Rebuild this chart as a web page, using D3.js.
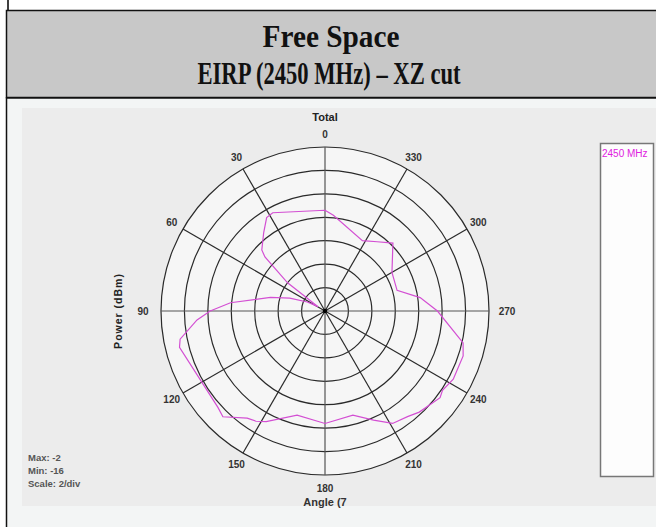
<!DOCTYPE html>
<html><head><meta charset="utf-8">
<script src="https://cdn.jsdelivr.net/npm/d3@7/dist/d3.min.js"></script>
<style>html,body{margin:0;padding:0;background:#fff;}svg{display:block;}</style>
</head><body>
<svg id="c" width="656" height="527"></svg>
<script>
// ---- data ----
const titleLines = ["Free Space", "EIRP (2450 MHz) \u2013 XZ cut"];
const seriesName = "2450 MHz";
const angleTicks = [0, 30, 60, 90, 120, 150, 180, 210, 240, 270, 300, 330];
const ringValues = [-16, -14, -12, -10, -8, -6, -4, -2];
const angles = [0, 28, 32, 38, 46, 48, 53, 58, 63, 70, 76, 85, 90, 94, 101, 104, 132, 136, 144, 148, 152, 165, 180, 195, 204, 211, 218, 223, 233, 236, 242, 252, 257, 270, 278, 286, 300, 315, 323, 332, 355, 360];
const values = [-7.4, -6.5, -6.6, -7.5, -8.5, -9.1, -12.0, -15.3, -14.3, -12.8, -11.2, -7.9, -6.2, -5.05, -3.4, -3.2, -3.7, -3.45, -4.7, -4.9, -5.3, -6.8, -6.4, -6.8, -5.8, -4.8, -4.56, -4.2, -3.7, -3.9, -3.6, -3.6, -3.9, -6.4, -7.8, -9.6, -9.4, -7.8, -8.6, -9.2, -7.8, -7.4];
const statLines = ["Max: -2", "Min: -16", "Scale: 2/div"];

// ---- layout ----
const svg = d3.select("#c");
const W = 656, H = 527;
const cx = 325, cy = 311, R = 164;

// top strip + header
svg.append("rect").attr("x",0).attr("y",0).attr("width",W).attr("height",H).attr("fill","#fff");
svg.append("line").attr("x1",8).attr("x2",8).attr("y1",0).attr("y2",10).attr("stroke","#000").attr("stroke-width",1.5);
svg.append("rect").attr("x",6.5).attr("y",10.5).attr("width",W+10).attr("height",87).attr("fill","#c8c8c8").attr("stroke","#111").attr("stroke-width",1.5);
svg.append("rect").attr("x",6.5).attr("y",98).attr("width",W+10).attr("height",H).attr("fill","#f3f5f5").attr("stroke","#111").attr("stroke-width",1.5);
const titleLen = [137, 263];
const titleX = [331, 329];
svg.selectAll("text.title").data(titleLines).join("text")
  .attr("x",(d,i)=>titleX[i]).attr("y",(d,i)=>47+i*37)
  .attr("text-anchor","middle")
  .attr("font-family","'Liberation Serif','Times New Roman',serif")
  .attr("font-weight","bold").attr("font-size",32)
  .attr("textLength",(d,i)=>titleLen[i]).attr("lengthAdjust","spacingAndGlyphs")
  .attr("fill","#111").text(d=>d);

// chart panel
svg.append("rect").attr("x",22).attr("y",108).attr("width",W-22).attr("height",398).attr("fill","#ececec");

const g = svg.append("g");
const r = d3.scaleLinear().domain([ringValues[0], ringValues[ringValues.length-1]]).range([0, R]);
const rad = d => d*Math.PI/180;
const px = (a, rr) => cx - rr*Math.sin(rad(a));
const py = (a, rr) => cy - rr*Math.cos(rad(a));

// plot fill
g.append("circle").attr("cx",cx).attr("cy",cy).attr("r",R).attr("fill","#f6f6f6");

// rings
g.selectAll("circle.ring").data(ringValues.slice(1)).join("circle")
  .attr("cx",cx).attr("cy",cy).attr("r",d=>r(d))
  .attr("fill","none").attr("stroke","#2a2a2a").attr("stroke-width",1.2);
// spokes
g.selectAll("line.spoke").data(angleTicks).join("line")
  .attr("x1",cx).attr("y1",cy)
  .attr("x2",d=>px(d,R)).attr("y2",d=>py(d,R))
  .attr("stroke",d=>d%90===0?"#555":"#2a2a2a").attr("stroke-width",1.2);
g.append("circle").attr("cx",cx).attr("cy",cy).attr("r",2.2).attr("fill","#000");

// angle labels
g.selectAll("text.ang").data(angleTicks).join("text")
  .attr("x",d=>px(d,R+ (d%180===90?18:13)))
  .attr("y",d=>py(d,R+ (d%180===90?18:13)))
  .attr("text-anchor","middle").attr("dominant-baseline","central")
  .attr("font-family","'Liberation Sans',Arial,sans-serif").attr("font-weight","bold")
  .attr("font-size",10).attr("fill","#333").text(d=>d);

// data line
const line = d3.line()
  .x((d,i)=>px(angles[i], r(values[i])))
  .y((d,i)=>py(angles[i], r(values[i])));
g.append("path").datum(values).attr("d",line)
  .attr("fill","none").attr("stroke","#d34fd3").attr("stroke-width",1.2);

// texts
const sans = "'Liberation Sans',Arial,sans-serif";
svg.append("text").attr("x",cx).attr("y",121).attr("text-anchor","middle")
  .attr("font-family",sans).attr("font-weight","bold").attr("font-size",11).attr("fill","#222").text("Total");
svg.append("text").attr("x",cx).attr("y",506).attr("text-anchor","middle")
  .attr("font-family",sans).attr("font-weight","bold").attr("font-size",11).attr("fill","#333").text("Angle (7");
svg.append("text").attr("transform","translate(122,"+cy+") rotate(-90)").attr("text-anchor","middle")
  .attr("font-family",sans).attr("font-weight","bold").attr("font-size",10.5).attr("fill","#222")
  .attr("letter-spacing",1).text("Power  (dBm)");
svg.selectAll("text.stat").data(statLines).join("text")
  .attr("x",28).attr("y",(d,i)=>461+i*13)
  .attr("font-family",sans).attr("font-weight","bold").attr("font-size",9.5).attr("fill","#555").text(d=>d);

// legend
svg.append("rect").attr("x",600.5).attr("y",143.5).attr("width",53).attr("height",333)
  .attr("fill","#fdfdfd").attr("stroke","#777").attr("stroke-width",1.5);
svg.append("text").attr("x",602).attr("y",157).attr("font-family",sans).attr("font-size",10)
  .attr("fill","#e020e0").text(seriesName);
</script>
</body></html>
